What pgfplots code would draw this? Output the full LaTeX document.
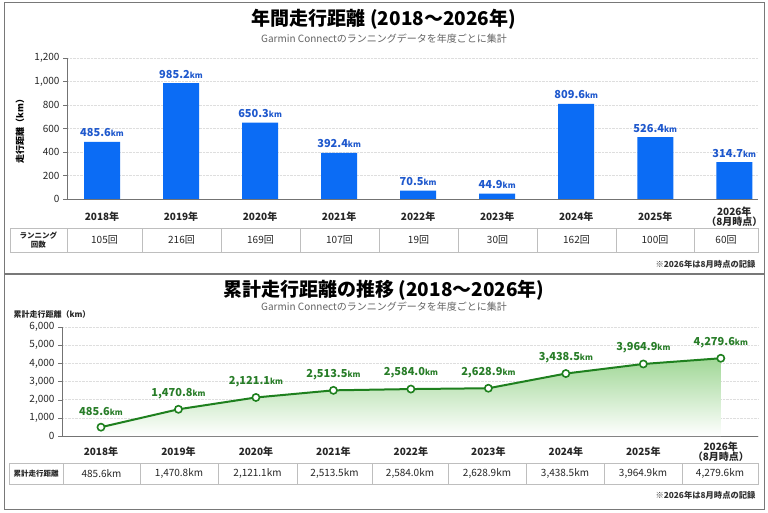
\documentclass[border=0pt]{standalone}
\usepackage{pgfplots}
\pgfplotsset{compat=1.18}
\usepackage{fontspec}
\setmainfont{Noto Sans CJK JP}
\definecolor{barblue}{RGB}{11,108,245}
\definecolor{lblblue}{RGB}{30,88,205}
\definecolor{lgreen}{RGB}{30,128,30}
\definecolor{lblgreen}{RGB}{40,125,40}
\definecolor{fillgreen}{RGB}{160,215,150}
\definecolor{framegray}{RGB}{120,120,120}
\definecolor{cellgray}{RGB}{190,190,190}
\definecolor{txtgray}{RGB}{100,100,100}
\newcommand{\fs}[1]{\fontsize{#1}{#1}\selectfont}
\begin{document}
\begin{tikzpicture}[x=1pt,y=1pt]
\useasboundingbox (0,0) rectangle (768,512);
\fill[white] (0,0) rectangle (768,512);
\begin{scope}[shift={(0,512)}, y=-1pt]
\draw[framegray, line width=1pt] (4,3) rectangle (764,509);
\draw[framegray, line width=1.2pt] (4,274) -- (764,274);

% ---------- top panel ----------
\node[font=\bfseries\fs{19}] at (384,19) {年間走行距離 (2018～2026年)};
\node[font=\fs{10}, text=txtgray] at (384,39) {Garmin Connectのランニングデータを年度ごとに集計};
\node[font=\bfseries\fs{9}, rotate=90] at (20,129) {走行距離（km）};

% top table
\draw[cellgray, line width=0.8pt] (10,228) rectangle (67,252);
\node[align=center, font=\bfseries\fs{7.5}, text=black!85] at (38.5,240) {ランニング\\[1pt]回数};
\foreach \a/\b/\t in {67/142/105回,142/221/216回,221/300/169回,300/379/107回,379/458/19回,458/537/30回,537/616/162回,616/694/100回,694/758/60回}{
  \draw[cellgray, line width=0.8pt] (\a,228) rectangle (\b,252);
  \node[font=\fs{10}, text=black!85] at ({(\a+\b)/2},240) {\t};
}
\node[anchor=east, font=\bfseries\fs{8.3}, text=black!80] at (759,264) {※2026年は8月時点の記録};

% ---------- bottom panel ----------
\node[font=\bfseries\fs{19}] at (384,290) {累計走行距離の推移 (2018～2026年)};
\node[font=\fs{10}, text=txtgray] at (384,307) {Garmin Connectのランニングデータを年度ごとに集計};
\node[anchor=west, font=\bfseries\fs{8}, text=black!85] at (10,314) {累計走行距離（km）};

% bottom table
\draw[cellgray, line width=0.8pt] (9,463) rectangle (63,484);
\node[font=\bfseries\fs{7.5}, text=black!85] at (36,473.5) {累計走行距離};
\foreach \a/\b/\t in {63/140/485.6km,140/218/{1,470.8km},218/297/{2,121.1km},297/372/{2,513.5km},372/448/{2,584.0km},448/526/{2,628.9km},526/604/{3,438.5km},604/682/{3,964.9km},682/758/{4,279.6km}}{
  \draw[cellgray, line width=0.8pt] (\a,463) rectangle (\b,484);
  \node[font=\fs{10}, text=black!85] at ({(\a+\b)/2},473.5) {\t};
}
\node[anchor=east, font=\bfseries\fs{8.3}, text=black!80] at (759,495) {※2026年は8月時点の記録};
\end{scope}

\begin{axis}[
  at={(67pt,313pt)}, anchor=south west, scale only axis,
  width=691pt, height=141pt,
  xmin=-0.443, xmax=8.30, ymin=0, ymax=1200,
  ybar, bar width=36pt,
  axis x line*=bottom, axis y line*=left,
  axis line style={draw=black!55, line width=0.8pt},
  ytick={0,200,...,1200},
  xtick={0,...,8},
  xticklabels={2018年,2019年,2020年,2021年,2022年,2023年,2024年,2025年,{2026年\\（8月時点）}},
  xticklabel style={align=center, anchor=center, yshift=-14pt, font=\bfseries\fs{10}, text=black!85},
  yticklabel style={font=\fs{10}, text=black!85},
  xtick style={draw=none},
  ytick style={draw=black!55},
  tick align=outside, major tick length=4pt,
  ymajorgrids, grid style={densely dotted, black!13},
  /pgf/number format/1000 sep={,},
  /pgf/number format/assume math mode=true,
  clip=false,
  point meta=explicit symbolic,
  nodes near coords={\textbf{\pgfplotspointmeta}{\bfseries\fs{8}km}},
  every node near coord/.append style={anchor=center, yshift=9pt, text=lblblue, font=\fs{11}},
]
\addplot[fill=barblue, draw=none] table[x=x, y=y, meta=lab] {
x y lab
0 485.6 485.6
1 985.2 985.2
2 650.3 650.3
3 392.4 392.4
4 70.5 70.5
5 44.9 44.9
6 809.6 809.6
7 526.4 526.4
8 314.7 314.7
};
\end{axis}

\begin{axis}[
  at={(62pt,76pt)}, anchor=south west, scale only axis,
  width=696pt, height=109pt,
  xmin=-0.503, xmax=8.48, ymin=0, ymax=6000,
  axis x line*=bottom, axis y line*=left,
  axis line style={draw=black!55, line width=0.8pt},
  ytick={0,1000,...,6000},
  xtick={0,...,8},
  xticklabels={2018年,2019年,2020年,2021年,2022年,2023年,2024年,2025年,{2026年\\（8月時点）}},
  xticklabel style={align=center, anchor=center, yshift=-12pt, font=\bfseries\fs{10}, text=black!85},
  yticklabel style={font=\fs{10}, text=black!85},
  xtick style={draw=none},
  ytick style={draw=black!55},
  tick align=outside, major tick length=4pt,
  ymajorgrids, grid style={densely dotted, black!13},
  /pgf/number format/1000 sep={,},
  /pgf/number format/assume math mode=true,
  clip=false,
]
\addplot[draw=none, top color=fillgreen, bottom color=white, forget plot] table[x=x, y=y] {
x y
0 485.6
1 1470.8
2 2121.1
3 2513.5
4 2584.0
5 2628.9
6 3438.5
7 3964.9
8 4279.6
} \closedcycle;
\addplot[lgreen, line width=2pt, mark=*, mark size=3.6pt,
  mark options={fill=white, draw=lgreen, line width=1.6pt},
  point meta=explicit symbolic,
  nodes near coords={\textbf{\pgfplotspointmeta}{\bfseries\fs{8}km}},
  every node near coord/.append style={anchor=center, yshift=16pt, text=lblgreen, font=\fs{11}},
] table[x=x, y=y, meta=lab] {
x y lab
0 485.6 485.6
1 1470.8 1,470.8
2 2121.1 2,121.1
3 2513.5 2,513.5
4 2584.0 2,584.0
5 2628.9 2,628.9
6 3438.5 3,438.5
7 3964.9 3,964.9
8 4279.6 4,279.6
};
\end{axis}
\end{tikzpicture}
\end{document}
